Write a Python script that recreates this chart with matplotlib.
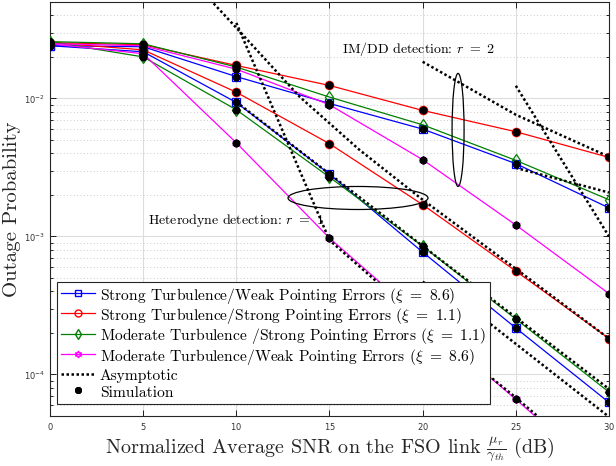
import numpy as np
import matplotlib
matplotlib.rcParams['axes.unicode_minus'] = False
import matplotlib.pyplot as plt
from matplotlib.patches import Ellipse
from matplotlib.lines import Line2D
from matplotlib import ticker

plt.rcParams['font.family'] = 'cmr10'
plt.rcParams['mathtext.fontset'] = 'cm'
plt.rcParams['axes.formatter.use_mathtext'] = True

# normalized average SNR (dB)
snr = [0, 5, 10, 15, 20, 25, 30]

# heterodyne detection, r = 1
het_st_wpe = [0.0241, 0.0218, 0.00935, 0.00283, 0.00077, 0.000217, 6.27e-5]
het_st_spe = [0.0254, 0.0225, 0.0111, 0.0047, 0.0017, 0.000561, 0.000182]
het_mt_spe = [0.0258, 0.0200, 0.00828, 0.00269, 0.00085, 0.000252, 7.45e-5]
het_mt_wpe = [0.0249, 0.0211, 0.00477, 0.000973, 0.00025, 6.6e-5, 1.7e-5]

# IM/DD detection, r = 2
imdd_st_wpe = [0.0241, 0.0237, 0.0144, 0.0092, 0.0060, 0.00337, 0.00161]
imdd_st_spe = [0.0254, 0.0245, 0.01734, 0.01242, 0.00819, 0.00574, 0.00374]
imdd_mt_spe = [0.0258, 0.0249, 0.0169, 0.01023, 0.00644, 0.00356, 0.001845]
imdd_mt_wpe = [0.0249, 0.0241, 0.0163, 0.0090, 0.0036, 0.00121, 0.000385]

# asymptotic curves (x in dB, y outage)
asy_het_1_x = [8.6, 10, 13.4, 16.6, 20, 25, 30]
asy_het_1_y = [0.0519, 0.0325, 0.01028, 0.00425, 0.001845, 0.000583, 0.000182]
asy_het_2_x = [10, 15, 20, 25, 30]
asy_het_2_y = [0.0353, 0.00094, 0.00024, 6.8e-5, 1.8e-5]
asy_het_3_x = [10, 20, 30]
asy_het_3_y = [0.00944, 0.000853, 7.85e-5]
asy_het_4_x = [20, 23.5, 30]
asy_het_4_y = [0.00047, 0.00024, 4.93e-5]
asy_imdd_1_x = [20, 25, 30]
asy_imdd_1_y = [0.01845, 0.00762, 0.00378]
asy_imdd_2_x = [25, 30]
asy_imdd_2_y = [0.01236, 0.001]
asy_imdd_3_x = [25, 30]
asy_imdd_3_y = [0.00314, 0.00208]

labels = [r'Strong Turbulence/Weak Pointing Errors ($\xi\ =\ 8.6$)',
          r'Strong Turbulence/Strong Pointing Errors ($\xi\ =\ 1.1$)',
          r'Moderate Turbulence /Strong Pointing Errors ($\xi\ =\ 1.1$)',
          r'Moderate Turbulence/Weak Pointing Errors ($\xi\ =\ 8.6$)']

colors = ['#0000ff', '#ff0000', '#008000', '#ff00ff']
markers = ['s', 'o', 'd', (6, 1, 0)]
het = [het_st_wpe, het_st_spe, het_mt_spe, het_mt_wpe]
imdd = [imdd_st_wpe, imdd_st_spe, imdd_mt_spe, imdd_mt_wpe]

fig = plt.figure(figsize=(6.16, 4.66), dpi=100)
ax = fig.add_axes([50/616, 1 - 416/466, 559/616, 414/466])

sim_kw = dict(ls='none', marker=(8, 2, 0), ms=5.5, mew=1.6, color='k', zorder=5)

for i in range(4):
    for data in (het[i], imdd[i]):
        ax.plot(snr, data, color=colors[i], lw=0.9, marker=markers[i], ms=6,
                mfc='none', mec=colors[i], mew=0.9, zorder=3)
    ax.plot(snr, het[i], **sim_kw)
    if i == 2:
        ax.plot(snr[:3], imdd[i][:3], **sim_kw)
    else:
        ax.plot(snr, imdd[i], **sim_kw)

asy = [(asy_het_1_x, asy_het_1_y), (asy_het_2_x, asy_het_2_y),
       (asy_het_3_x, asy_het_3_y), (asy_het_4_x, asy_het_4_y),
       (asy_imdd_1_x, asy_imdd_1_y), (asy_imdd_2_x, asy_imdd_2_y),
       (asy_imdd_3_x, asy_imdd_3_y)]
for xs, ys in asy:
    ax.plot(xs, ys, color='k', ls=(0, (1, 1)), lw=1.8, zorder=4)

ax.set_yscale('log')
ax.set_xlim(0, 30)
ax.set_ylim(5e-5, 5e-2)
ax.set_xticks([0, 5, 10, 15, 20, 25, 30])
ax.yaxis.set_major_locator(ticker.LogLocator(base=10, numticks=10))
ax.yaxis.set_minor_locator(ticker.LogLocator(base=10, subs=np.arange(2, 10), numticks=10))
ax.yaxis.set_minor_formatter(ticker.NullFormatter())
ax.tick_params(which='both', direction='in', top=True, right=True,
               labelsize=6, width=0.6)
ax.tick_params(which='major', length=4)
ax.tick_params(which='minor', length=2)
for lab in ax.get_xticklabels() + ax.get_yticklabels():
    lab.set_fontfamily('DejaVu Sans')
    lab.set_color('#333333')
ax.grid(True, which='major', color='#dddddd', lw=0.8)
ax.grid(True, which='minor', axis='y', color='#bbbbbb', ls=(0, (1, 3)), lw=0.6)
ax.set_axisbelow(True)
for s in ax.spines.values():
    s.set_linewidth(0.8)
    s.set_color('#262626')

ax.set_xlabel(r'Normalized Average SNR on the FSO link $\frac{\mu_r}{\gamma_{th}}$ (dB)',
              fontsize=14.5, color='#262626', labelpad=2)
ax.set_ylabel('Outage Probability', fontsize=15, color='#262626', labelpad=2)

ax.text(0.522, 0.886, r'IM/DD detection: $r\ =\ 2$', transform=ax.transAxes,
        fontsize=10, va='center', ha='left')
ax.text(0.175, 0.473, r'Heterodyne detection: $r\ =\ 1$', transform=ax.transAxes,
        fontsize=10, va='center', ha='left')
ax.add_patch(Ellipse((0.730, 0.691), 0.0215, 0.273, transform=ax.transAxes,
                     fill=False, ec='k', lw=0.9, zorder=6))
ax.add_patch(Ellipse((0.551, 0.5266), 0.2504, 0.0556, transform=ax.transAxes,
                     fill=False, ec='k', lw=0.9, zorder=6))

handles = [Line2D([], [], color=colors[i], lw=0.9, marker=markers[i], ms=5,
                  mfc='none', mec=colors[i]) for i in range(4)]
handles.append(Line2D([], [], color='k', ls=(0, (1, 1)), lw=1.8))
handles.append(Line2D([], [], ls='none', marker=(8, 2, 0), ms=5, mew=1.4, color='k'))
leg = ax.legend(handles, labels + ['Asymptotic', 'Simulation'], loc='lower left',
                bbox_to_anchor=(7/559, 12/414), fontsize=11.2, fancybox=False,
                framealpha=1, edgecolor='#262626', handlelength=2.2,
                handleheight=1.25, borderpad=0.25, labelspacing=0.02,
                handletextpad=0.3, borderaxespad=0)
leg.get_frame().set_linewidth(0.8)
leg.set_zorder(10)

fig.savefig('out.png', dpi=100)
